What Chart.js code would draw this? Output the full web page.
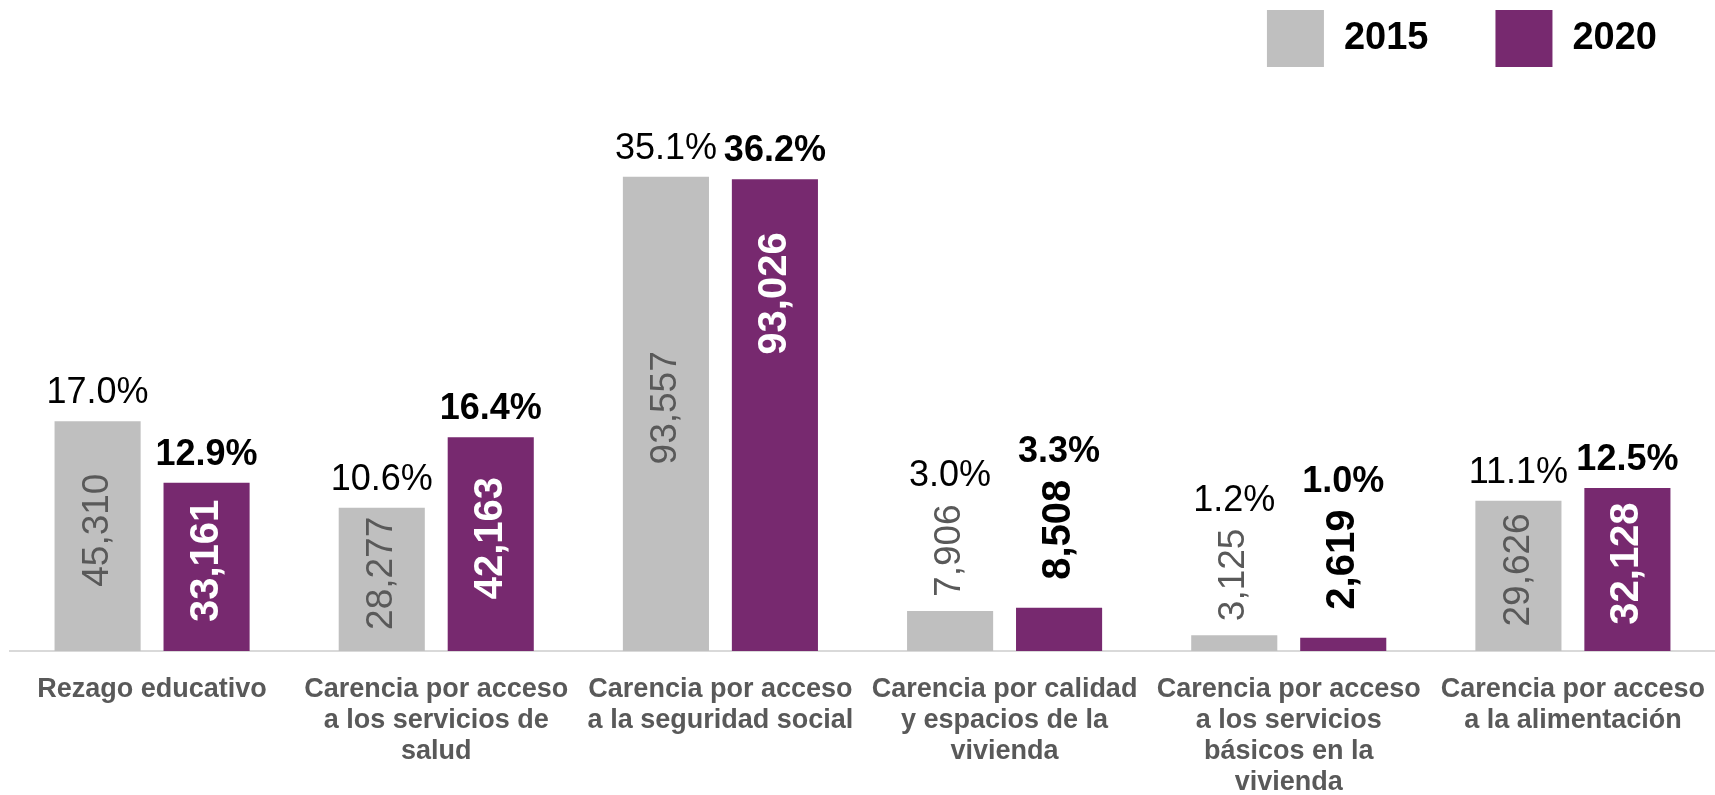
<!DOCTYPE html>
<html>
<head>
<meta charset="utf-8">
<script src="https://cdn.jsdelivr.net/npm/chart.js@4.4.0/dist/chart.umd.min.js"></script>
<style>
  html, body { margin: 0; padding: 0; background: #ffffff; }
  #wrap { width: 1715px; height: 795px; position: relative; }
</style>
</head>
<body>
<div id="wrap"><canvas id="carenciasChart"></canvas></div>
<script>
// Data
const years = ['2015', '2020'];
const categories = [
    ['Rezago educativo'],
    ['Carencia por acceso', 'a los servicios de', 'salud'],
    ['Carencia por acceso', 'a la seguridad social'],
    ['Carencia por calidad', 'y espacios de la', 'vivienda'],
    ['Carencia por acceso', 'a los servicios', 'básicos en la', 'vivienda'],
    ['Carencia por acceso', 'a la alimentación']
];
const people2015 = [45310, 28277, 93557, 7906, 3125, 29626];
const people2020 = [33161, 42163, 93026, 8508, 2619, 32128];
const pct2015 = [17.0, 10.6, 35.1, 3.0, 1.2, 11.1];
const pct2020 = [12.9, 16.4, 36.2, 3.3, 1.0, 12.5];

const FONT = "'Liberation Sans', Arial, sans-serif";
const GRAY = '#bfbfbf';
const PURPLE = '#77296f';

// where the count label of each 2020 bar sits ('center' or 'end')
const anchor2020 = ['center', 'center', 'end', 'center', 'center', 'center'];

const fmt = v => v.toLocaleString('en-US');

// Legend drawn top right
const legendPlugin = {
    id: 'topLegend',
    afterDraw(chart) {
        const ctx = chart.ctx;
        const box = 57, gap = 20, itemGap = 67;
        ctx.save();
        ctx.font = `bold 38px ${FONT}`;
        const widths = chart.data.datasets.map(ds => ctx.measureText(ds.label).width);
        let total = 0;
        widths.forEach((w, i) => { total += box + gap + w + (i > 0 ? itemGap : 0); });
        let x = chart.width - 58 - total;
        chart.data.datasets.forEach((ds, i) => {
            ctx.fillStyle = ds.backgroundColor;
            ctx.fillRect(x, 10, box, box);
            ctx.fillStyle = '#000000';
            ctx.textAlign = 'left';
            ctx.textBaseline = 'middle';
            ctx.fillText(ds.label, x + box + gap, 39);
            x += box + gap + widths[i] + itemGap;
        });
        ctx.restore();
    }
};

// Counts inside / above bars and percentages above them
const labelPlugin = {
    id: 'barLabels',
    afterDatasetsDraw(chart) {
        const ctx = chart.ctx;
        const pcts = [pct2015, pct2020];
        chart.data.datasets.forEach((ds, di) => {
            const meta = chart.getDatasetMeta(di);
            meta.data.forEach((bar, i) => {
                const bold = di === 1;
                const txt = fmt(ds.data[i]);
                ctx.save();
                ctx.font = bold ? `bold 40px ${FONT}` : `37px ${FONT}`;
                const w = ctx.measureText(txt).width;
                const h = bar.base - bar.y;
                let cy, color;
                let topOfStack = bar.y;
                if (h < w + 20) {
                    // too short: label goes above the bar
                    cy = bar.y - (bold ? 28 : 14) - w / 2;
                    color = bold ? '#000000' : '#595959';
                    topOfStack = cy - w / 2;
                } else {
                    if (bold && anchor2020[i] === 'end') {
                        cy = bar.y + 53 + w / 2;
                    } else {
                        cy = bar.y + h / 2 - 6;
                    }
                    color = bold ? '#ffffff' : '#595959';
                }
                ctx.translate(bar.x, cy);
                ctx.rotate(-Math.PI / 2);
                ctx.fillStyle = color;
                ctx.textAlign = 'center';
                ctx.textBaseline = 'middle';
                ctx.fillText(txt, 0, 0);
                ctx.restore();

                ctx.save();
                ctx.font = `${bold ? 'bold ' : ''}36px ${FONT}`;
                ctx.fillStyle = '#000000';
                ctx.textAlign = 'center';
                ctx.textBaseline = 'alphabetic';
                ctx.fillText(pcts[di][i].toFixed(1) + '%', bar.x, topOfStack - 18);
                ctx.restore();
            });
        });
    }
};

const ctx = document.getElementById('carenciasChart').getContext('2d');
const chart = new Chart(ctx, {
    type: 'bar',
    data: {
        labels: categories,
        datasets: [
            { label: years[0], data: people2015, backgroundColor: GRAY, borderWidth: 0 },
            { label: years[1], data: people2020, backgroundColor: PURPLE, borderWidth: 0 }
        ]
    },
    options: {
        responsive: true,
        maintainAspectRatio: false,
        animation: false,
        layout: { padding: { top: 144, left: 10, right: -3, bottom: 0 } },
        categoryPercentage: 0.767,
        barPercentage: 0.79,
        plugins: {
            legend: { display: false },
            tooltip: { enabled: false }
        },
        scales: {
            x: {
                // ticks are not drawn (grid hidden), tickLength only spaces the labels
                grid: { display: false, drawTicks: true, tickLength: 23 },
                border: { display: true, color: '#d9d9d9', width: 2 },
                afterFit: scale => { scale.height = 144; },
                ticks: {
                    padding: 0,
                    maxRotation: 0,
                    autoSkip: false,
                    color: '#595959',
                    font: { family: FONT, size: 27, weight: 'bold', lineHeight: 1.15 }
                }
            },
            y: {
                display: false,
                min: 0,
                max: 100000
            }
        }
    },
    plugins: [legendPlugin, labelPlugin]
});
</script>
</body>
</html>
